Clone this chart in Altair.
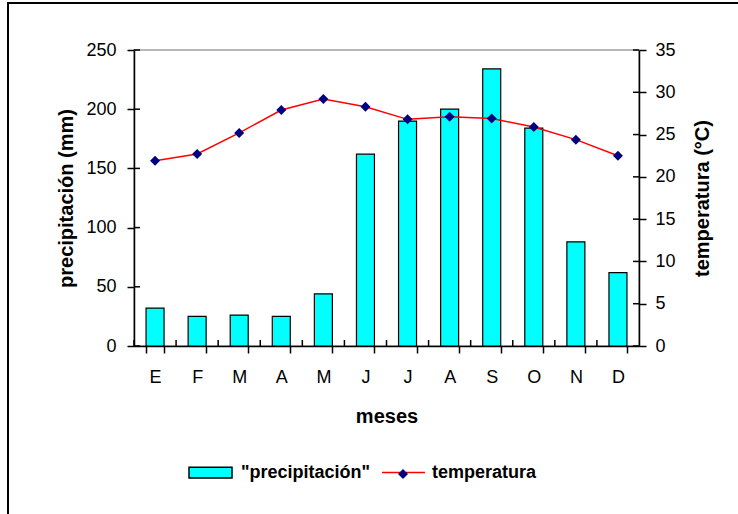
import altair as alt
import pandas as pd

# Monthly climate data
meses = ["Ene", "Feb", "Mar", "Abr", "May", "Jun", "Jul", "Ago", "Sep", "Oct", "Nov", "Dic"]
precipitacion = [32, 25, 26, 25, 44, 162, 190, 200, 234, 184, 88, 62]
temperatura = [21.9, 22.7, 25.2, 27.9, 29.2, 28.3, 26.8, 27.1, 26.9, 25.9, 24.4, 22.5]
ticks_precip = [0, 50, 100, 150, 200, 250]
ticks_temp = [0, 5, 10, 15, 20, 25, 30, 35]

df = pd.DataFrame({
    "mes": meses,
    "precipitacion": precipitacion,
    "temperatura": temperatura,
    "serie_p": ['"precipitación"'] * len(meses),
    "serie_t": ["temperatura"] * len(meses),
    "serie_m": ["marcador"] * len(meses),
})

FONT = "Liberation Sans"
W, H = 505, 296
PAD = 0.5723  # gap between columns as a share of each category step
STEP = W / len(meses)

x_axis = alt.Axis(
    title="meses", labelAngle=0, tickBand="extent", labelExpr="substring(datum.label, 0, 1)",
    labelFontSize=18, labelPadding=15, tickSize=7, tickWidth=1.5, domainWidth=1.5,
    titleFontSize=20, titleFontWeight="bold", titleY=70, titleBaseline="middle",
)


def x_enc(**kw):
    return alt.X("mes:N", sort=meses,
                 scale=alt.Scale(paddingInner=PAD, paddingOuter=PAD / 2),
                 axis=x_axis, **kw)


scale_p = alt.Scale(domain=[0, 250], nice=False, zero=True)
scale_t = alt.Scale(domain=[0, 35], nice=False, zero=True)

bars = alt.Chart(df).mark_bar(stroke="black", strokeWidth=1.2).encode(
    x=x_enc(),
    y=alt.Y("precipitacion:Q", scale=scale_p, axis=alt.Axis(
        orient="left", values=ticks_precip, title="precipitación (mm)",
        titleFontSize=20, titleFontWeight="bold", titleAngle=270,
        titleX=-68, titleY=H / 2, titleAlign="center", titleBaseline="middle",
        labelFontSize=18, labelPadding=11, tickSize=7, tickWidth=1.5, domainWidth=1.5,
    )),
    fill=alt.Fill("serie_p:N", scale=alt.Scale(range=["#00FFFF"]), legend=alt.Legend(
        title=None, orient="none", legendX=54, legendY=400, padding=0,
        symbolType="M-1,-0.25H1V0.25H-1Z", symbolSize=1849,
        symbolStrokeColor="black", symbolStrokeWidth=1.5, labelOffset=8,
    )),
)

line = alt.Chart(df).mark_line(strokeWidth=1.5).encode(
    x=x_enc(),
    y=alt.Y("temperatura:Q", scale=scale_t, axis=alt.Axis(
        orient="right", values=ticks_temp, title="temperatura (°C)",
        titleFontSize=20, titleFontWeight="bold", titleAngle=270,
        titleX=63, titleY=H / 2, titleAlign="center", titleBaseline="middle",
        labelFontSize=18, labelPadding=9, tickSize=7, tickWidth=1.5, domainWidth=1.5,
    )),
    stroke=alt.Stroke("serie_t:N", scale=alt.Scale(range=["#FF0000"]), legend=alt.Legend(
        title=None, orient="none", legendX=247, legendY=400, padding=0,
        symbolType="stroke", symbolSize=1849, symbolStrokeWidth=1.5, labelOffset=6,
    )),
)

points = alt.Chart(df).mark_point(filled=True, size=100, opacity=1).encode(
    x=x_enc(),
    y=alt.Y("temperatura:Q", scale=scale_t, axis=None),
    shape=alt.Shape("serie_m:N", scale=alt.Scale(range=["diamond"]), legend=alt.Legend(
        title=None, orient="none", legendX=260, legendY=415, padding=0,
        symbolSize=100, symbolFillColor="#000080", symbolStrokeColor="#000080",
        labelExpr="''",
    )),
    color=alt.value("#000080"),
)

# Inner halves of the crossing tick marks
ticks_left = alt.Chart(pd.DataFrame({"v": ticks_precip})).mark_rule(
    color="black", strokeWidth=1.5).encode(
    y=alt.Y("v:Q", scale=scale_p, axis=None), x=alt.value(0), x2=alt.value(6))
ticks_right = alt.Chart(pd.DataFrame({"v": ticks_temp})).mark_rule(
    color="black", strokeWidth=1.5).encode(
    y=alt.Y("v:Q", scale=scale_t, axis=None), x=alt.value(W - 6), x2=alt.value(W))
ticks_bottom = alt.Chart(df).mark_rule(
    color="black", strokeWidth=1.5, xOffset=-(PAD / 2) * STEP).encode(
    x=x_enc(bandPosition=0), y=alt.value(H - 6), y2=alt.value(H))

# Outer chart frame
frame_df = pd.DataFrame({"k": [0]})
frame_left = alt.Chart(frame_df).mark_rule(color="black", strokeWidth=2).encode(
    x=alt.value(-126), y=alt.value(-47), y2=alt.value(480))
frame_top = alt.Chart(frame_df).mark_rule(color="black", strokeWidth=2).encode(
    x=alt.value(-127), x2=alt.value(620), y=alt.value(-47))

chart = alt.layer(
    bars, ticks_left, ticks_bottom, line, ticks_right, points, frame_left, frame_top
).resolve_scale(
    y="independent"
).properties(
    width=W, height=H,
    autosize=alt.AutoSizeParams(type="none"),
    padding={"left": 134, "top": 50, "right": 99, "bottom": 168},
    background="white",
).configure_view(
    stroke="#a0a0a0", strokeWidth=1.5
).configure_axis(
    grid=False, labelFont=FONT, titleFont=FONT, labelColor="black", titleColor="black",
    domainColor="black", tickColor="black",
).configure_legend(
    labelFont=FONT, labelFontSize=18, labelFontWeight="bold", labelColor="black",
)

chart.save("out.html", embed_options={"renderer": "svg", "actions": False})
